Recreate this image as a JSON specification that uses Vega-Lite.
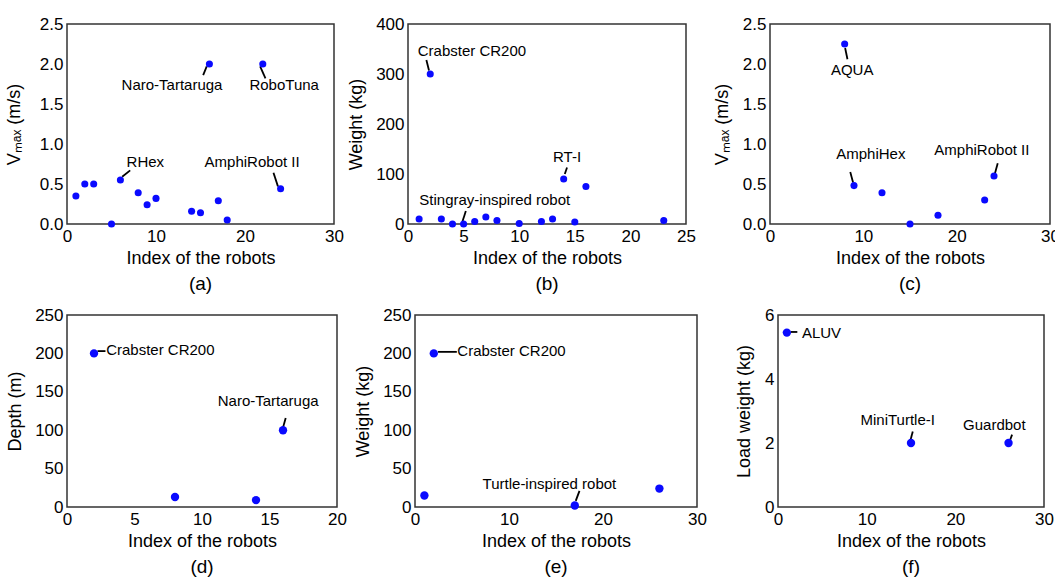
{
  "$schema": "https://vega.github.io/schema/vega-lite/v6.json",
  "padding": {"left": 4, "top": 14, "right": 5, "bottom": 5},
  "config": {
    "view": {"stroke": "#333333", "strokeWidth": 1.5},
    "axis": {"labelFont": "Liberation Sans", "titleFont": "Liberation Sans", "labelFontSize": 17, "titleFontSize": 18, "titleFontWeight": "normal", "labelColor": "#000000", "titleColor": "#000000", "grid": false, "ticks": false, "domain": false, "labelPadding": 4, "labelFlush": false, "labelOverlap": false, "titlePadding": 5},
    "title": {"font": "Liberation Sans", "fontSize": 19, "fontWeight": "normal", "color": "#000000", "orient": "bottom", "offset": 8},
    "text": {"font": "Liberation Sans", "fontSize": 15, "color": "#000000", "baseline": "middle"},
    "circle": {"color": "#0a0aff", "opacity": 1},
    "rule": {"color": "#000000", "strokeWidth": 1.8}
  },
  "datasets": {
    "a_pts": [
      {"index": 1, "value": 0.35}, {"index": 2, "value": 0.5}, {"index": 3, "value": 0.5}, {"index": 5, "value": 0},
      {"index": 6, "value": 0.55}, {"index": 8, "value": 0.39}, {"index": 9, "value": 0.24}, {"index": 10, "value": 0.32},
      {"index": 14, "value": 0.16}, {"index": 15, "value": 0.14}, {"index": 16, "value": 2.0}, {"index": 17, "value": 0.29},
      {"index": 18, "value": 0.05}, {"index": 22, "value": 2.0}, {"index": 24, "value": 0.44}
    ],
    "a_lbl": [
      {"label": "Naro-Tartaruga", "index": 11.8, "value": 1.74},
      {"label": "RoboTuna", "index": 24.4, "value": 1.74},
      {"label": "RHex", "index": 8.8, "value": 0.78},
      {"label": "AmphiRobot II", "index": 20.8, "value": 0.77}
    ],
    "a_lines": [
      {"index": 15.3, "value": 1.86, "index2": 15.7, "value2": 1.97},
      {"index": 21.7, "value": 1.97, "index2": 22.3, "value2": 1.82},
      {"index": 6.2, "value": 0.59, "index2": 7.1, "value2": 0.67},
      {"index": 23.2, "value": 0.64, "index2": 23.7, "value2": 0.47}
    ],
    "b_pts": [
      {"index": 1, "value": 10}, {"index": 2, "value": 300}, {"index": 3, "value": 10}, {"index": 4, "value": 0},
      {"index": 5, "value": 0}, {"index": 6, "value": 5}, {"index": 7, "value": 14}, {"index": 8, "value": 7},
      {"index": 10, "value": 1}, {"index": 12, "value": 5}, {"index": 13, "value": 10}, {"index": 14, "value": 90},
      {"index": 15, "value": 4}, {"index": 16, "value": 75}, {"index": 23, "value": 7}
    ],
    "b_lbl": [
      {"label": "Crabster CR200", "index": 5.75, "value": 347},
      {"label": "RT-I", "index": 14.3, "value": 134},
      {"label": "Stingray-inspired robot", "index": 7.8, "value": 48}
    ],
    "b_lines": [
      {"index": 1.65, "value": 328, "index2": 1.89, "value2": 307},
      {"index": 14.3, "value": 113, "index2": 14.1, "value2": 100},
      {"index": 5.2, "value": 26, "index2": 4.9, "value2": 5}
    ],
    "c_pts": [
      {"index": 8, "value": 2.25}, {"index": 9, "value": 0.48}, {"index": 12, "value": 0.39}, {"index": 15, "value": 0},
      {"index": 18, "value": 0.11}, {"index": 23, "value": 0.3}, {"index": 24, "value": 0.6}
    ],
    "c_lbl": [
      {"label": "AQUA", "index": 8.8, "value": 1.93},
      {"label": "AmphiHex", "index": 10.8, "value": 0.87},
      {"label": "AmphiRobot II", "index": 22.7, "value": 0.92}
    ],
    "c_lines": [
      {"index": 8.05, "value": 2.2, "index2": 8.3, "value2": 2.06},
      {"index": 8.6, "value": 0.65, "index2": 8.9, "value2": 0.52},
      {"index": 24.4, "value": 0.76, "index2": 24.1, "value2": 0.63}
    ],
    "d_pts": [
      {"index": 2, "value": 200}, {"index": 8, "value": 13}, {"index": 14, "value": 9}, {"index": 16, "value": 100}
    ],
    "d_lbl": [
      {"label": "Naro-Tartaruga", "index": 14.9, "value": 138}
    ],
    "d_lbl_left": [
      {"label": "Crabster CR200", "index": 2.9, "value": 205}
    ],
    "d_lines": [
      {"index": 16.2, "value": 116, "index2": 15.96, "value2": 101},
      {"index": 2.26, "value": 203, "index2": 2.85, "value2": 203}
    ],
    "e_pts": [
      {"index": 1, "value": 15}, {"index": 2, "value": 200}, {"index": 17, "value": 2}, {"index": 26, "value": 24}
    ],
    "e_lbl": [
      {"label": "Turtle-inspired robot", "index": 14.3, "value": 30}
    ],
    "e_lbl_left": [
      {"label": "Crabster CR200", "index": 4.5, "value": 203}
    ],
    "e_lines": [
      {"index": 17.5, "value": 21, "index2": 17.1, "value2": 8},
      {"index": 2.45, "value": 202, "index2": 4.45, "value2": 202}
    ],
    "f_pts": [
      {"index": 1, "value": 5.45}, {"index": 15, "value": 2}, {"index": 26, "value": 2}
    ],
    "f_lbl": [
      {"label": "MiniTurtle-I", "index": 13.5, "value": 2.73},
      {"label": "Guardbot", "index": 24.4, "value": 2.55}
    ],
    "f_lbl_left": [
      {"label": "ALUV", "index": 2.7, "value": 5.45}
    ],
    "f_lines": [
      {"index": 15.2, "value": 2.36, "index2": 14.9, "value2": 2.05},
      {"index": 26.4, "value": 2.26, "index2": 26.1, "value2": 2.03},
      {"index": 1.43, "value": 5.47, "index2": 2.18, "value2": 5.47}
    ]
  },
  "bounds": "full",
  "spacing": 10,
  "vconcat": [
    {
      "bounds": "flush",
      "spacing": 74,
      "hconcat": [
        {
          "width": 267, "height": 200,
          "title": {"text": "(a)"},
          "encoding": {
            "x": {"field": "index", "type": "quantitative", "title": "Index of the robots", "scale": {"domain": [0, 30], "nice": false}, "axis": {"values": [0, 10, 20, 30]}},
            "y": {"field": "value", "type": "quantitative", "title": "Vₘₐₓ (m/s)", "scale": {"domain": [0, 2.5], "nice": false}, "axis": {"values": [0, 0.5, 1, 1.5, 2, 2.5], "format": ".1f", "titlePadding": 16}}
          },
          "layer": [
            {"data": {"name": "a_lines"}, "mark": {"type": "rule"}, "encoding": {"x2": {"field": "index2"}, "y2": {"field": "value2"}}},
            {"data": {"name": "a_pts"}, "mark": {"type": "circle", "size": 50}},
            {"data": {"name": "a_lbl"}, "mark": {"type": "text"}, "encoding": {"text": {"field": "label"}}}
          ]
        },
        {
          "bounds": "flush",
          "spacing": 84,
          "hconcat": [
            {
              "width": 278, "height": 200,
              "title": {"text": "(b)"},
              "encoding": {
                "x": {"field": "index", "type": "quantitative", "title": "Index of the robots", "scale": {"domain": [0, 25], "nice": false}, "axis": {"values": [0, 5, 10, 15, 20, 25]}},
                "y": {"field": "value", "type": "quantitative", "title": "Weight (kg)", "scale": {"domain": [0, 400], "nice": false}, "axis": {"values": [0, 100, 200, 300, 400], "titlePadding": 10}}
              },
              "layer": [
                {"data": {"name": "b_lines"}, "mark": {"type": "rule"}, "encoding": {"x2": {"field": "index2"}, "y2": {"field": "value2"}}},
                {"data": {"name": "b_pts"}, "mark": {"type": "circle", "size": 50}},
                {"data": {"name": "b_lbl"}, "mark": {"type": "text"}, "encoding": {"text": {"field": "label"}}}
              ]
            },
            {
              "width": 280, "height": 200,
              "title": {"text": "(c)"},
              "encoding": {
                "x": {"field": "index", "type": "quantitative", "title": "Index of the robots", "scale": {"domain": [0, 30], "nice": false}, "axis": {"values": [0, 10, 20, 30]}},
                "y": {"field": "value", "type": "quantitative", "title": "Vₘₐₓ (m/s)", "scale": {"domain": [0, 2.5], "nice": false}, "axis": {"values": [0, 0.5, 1, 1.5, 2, 2.5], "format": ".1f", "titlePadding": 11}}
              },
              "layer": [
                {"data": {"name": "c_lines"}, "mark": {"type": "rule"}, "encoding": {"x2": {"field": "index2"}, "y2": {"field": "value2"}}},
                {"data": {"name": "c_pts"}, "mark": {"type": "circle", "size": 50}},
                {"data": {"name": "c_lbl"}, "mark": {"type": "text"}, "encoding": {"text": {"field": "label"}}}
              ]
            }
          ]
        }
      ]
    },
    {
      "bounds": "flush",
      "spacing": 78,
      "hconcat": [
        {
          "width": 270, "height": 192,
          "title": {"text": "(d)"},
          "encoding": {
            "x": {"field": "index", "type": "quantitative", "title": "Index of the robots", "scale": {"domain": [0, 20], "nice": false}, "axis": {"values": [0, 5, 10, 15, 20]}},
            "y": {"field": "value", "type": "quantitative", "title": "Depth (m)", "scale": {"domain": [0, 250], "nice": false}, "axis": {"values": [0, 50, 100, 150, 200, 250], "titlePadding": 10}}
          },
          "layer": [
            {"data": {"name": "d_lines"}, "mark": {"type": "rule"}, "encoding": {"x2": {"field": "index2"}, "y2": {"field": "value2"}}},
            {"data": {"name": "d_pts"}, "mark": {"type": "circle", "size": 70}},
            {"data": {"name": "d_lbl"}, "mark": {"type": "text"}, "encoding": {"text": {"field": "label"}}},
            {"data": {"name": "d_lbl_left"}, "mark": {"type": "text", "align": "left"}, "encoding": {"text": {"field": "label"}}}
          ]
        },
        {
          "bounds": "flush",
          "spacing": 81,
          "hconcat": [
            {
              "width": 282, "height": 192,
              "title": {"text": "(e)"},
              "encoding": {
                "x": {"field": "index", "type": "quantitative", "title": "Index of the robots", "scale": {"domain": [0, 30], "nice": false}, "axis": {"values": [0, 10, 20, 30]}},
                "y": {"field": "value", "type": "quantitative", "title": "Weight (kg)", "scale": {"domain": [0, 250], "nice": false}, "axis": {"values": [0, 50, 100, 150, 200, 250], "titlePadding": 10}}
              },
              "layer": [
                {"data": {"name": "e_lines"}, "mark": {"type": "rule"}, "encoding": {"x2": {"field": "index2"}, "y2": {"field": "value2"}}},
                {"data": {"name": "e_pts"}, "mark": {"type": "circle", "size": 70}},
                {"data": {"name": "e_lbl"}, "mark": {"type": "text"}, "encoding": {"text": {"field": "label"}}},
                {"data": {"name": "e_lbl_left"}, "mark": {"type": "text", "align": "left"}, "encoding": {"text": {"field": "label"}}}
              ]
            },
            {
              "width": 266, "height": 192,
              "title": {"text": "(f)"},
              "encoding": {
                "x": {"field": "index", "type": "quantitative", "title": "Index of the robots", "scale": {"domain": [0, 30], "nice": false}, "axis": {"values": [0, 10, 20, 30]}},
                "y": {"field": "value", "type": "quantitative", "title": "Load weight (kg)", "scale": {"domain": [0, 6], "nice": false}, "axis": {"values": [0, 2, 4, 6], "titlePadding": 11}}
              },
              "layer": [
                {"data": {"name": "f_lines"}, "mark": {"type": "rule"}, "encoding": {"x2": {"field": "index2"}, "y2": {"field": "value2"}}},
                {"data": {"name": "f_pts"}, "mark": {"type": "circle", "size": 70}},
                {"data": {"name": "f_lbl"}, "mark": {"type": "text"}, "encoding": {"text": {"field": "label"}}},
                {"data": {"name": "f_lbl_left"}, "mark": {"type": "text", "align": "left"}, "encoding": {"text": {"field": "label"}}}
              ]
            }
          ]
        }
      ]
    }
  ]
}
